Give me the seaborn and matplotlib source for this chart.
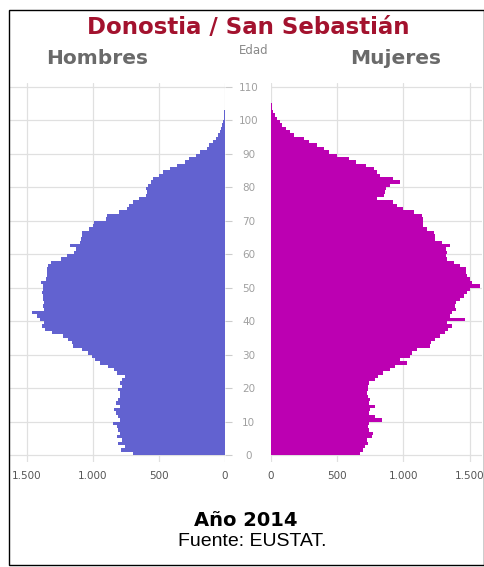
import numpy as np
import pandas as pd
import matplotlib
matplotlib.use('Agg')
import matplotlib.pyplot as plt
from matplotlib.patches import Rectangle
from matplotlib.ticker import FuncFormatter
import seaborn as sns

# datos: poblacion por edad simple (0-105), Donostia 2014
edades = list(range(106))
hombres = [700, 790, 760, 810, 780, 815, 795, 810, 815, 850,
           795, 810, 825, 840, 795, 825, 810, 795, 795, 810,
           780, 795, 780, 760, 820, 840, 885, 945, 985, 1010,
           1035, 1085, 1150, 1160, 1190, 1225, 1310, 1360, 1385, 1370,
           1400, 1420, 1460, 1370, 1375, 1370, 1380, 1375, 1385, 1375,
           1380, 1390, 1355, 1350, 1345, 1350, 1340, 1320, 1240, 1200,
           1140, 1130, 1175, 1100, 1090, 1085, 1080, 1030, 1000, 990,
           900, 890, 800, 745, 730, 700, 650, 595, 590, 600,
           580, 560, 545, 500, 470, 420, 360, 300, 270, 220,
           190, 140, 120, 90, 70, 55, 40, 28, 20, 14,
           9, 6, 4, 2, 1, 1]
mujeres = [672, 695, 710, 732, 725, 760, 770, 740, 732, 740,
           836, 785, 740, 750, 785, 740, 750, 732, 725, 732,
           732, 740, 785, 808, 846, 898, 936, 1025, 974, 1050,
           1065, 1100, 1200, 1210, 1240, 1276, 1313, 1338, 1364, 1325,
           1465, 1350, 1370, 1400, 1390, 1400, 1430, 1460, 1480, 1500,
           1580, 1520, 1500, 1480, 1470, 1475, 1430, 1380, 1330, 1320,
           1330, 1320, 1355, 1290, 1240, 1240, 1230, 1175, 1150, 1150,
           1150, 1140, 1080, 1000, 950, 920, 800, 850, 860, 870,
           900, 975, 920, 820, 800, 780, 720, 640, 590, 500,
           440, 400, 350, 290, 250, 170, 140, 110, 85, 68,
           45, 30, 15, 8, 4, 2]
ticks_edad = list(range(0, 111, 10))
ticks_pob = [0, 500, 1000, 1500]

df = pd.DataFrame({'edad': edades, 'hombres': hombres, 'mujeres': mujeres})
df['centro'] = df['edad'] + 0.5

sns.set_style('white')
plt.rcParams['font.family'] = ['DejaVu Sans']

W, H = 485, 567
fig = plt.figure(figsize=(W / 100, H / 100), dpi=100)
bottom = 1 - 461.7 / H
alto = 378.5 / H
ax_h = fig.add_axes([10 / W, bottom, 215 / W, alto])
ax_m = fig.add_axes([271 / W, bottom, 211 / W, alto])

sns.barplot(data=df, x='hombres', y='centro', orient='h', native_scale=True,
            width=1, color='#6262D0', saturation=1, linewidth=0,
            errorbar=None, ax=ax_h)
sns.barplot(data=df, x='mujeres', y='centro', orient='h', native_scale=True,
            width=1, color='#BC00B2', saturation=1, linewidth=0,
            errorbar=None, ax=ax_m)

fmt = FuncFormatter(lambda v, p: f'{int(v):,}'.replace(',', '.'))
for ax, lim in [(ax_h, (1628, 0)), (ax_m, (0, 1593))]:
    ax.set_xlim(lim)
    ax.set_ylim(-2, 111)
    ax.set_xticks(ticks_pob)
    ax.set_yticks(ticks_edad)
    ax.xaxis.set_major_formatter(fmt)
    ax.grid(True, color='#e0e0e0', lw=0.9)
    ax.set_axisbelow(True)
    ax.set_xlabel('')
    ax.set_ylabel('')
    for s in ax.spines.values():
        s.set_visible(False)
    ax.tick_params(axis='x', length=0, pad=6.5, labelsize=7.5, labelcolor='#555555')

ax_h.yaxis.tick_right()
ax_h.tick_params(axis='y', length=5, color='#cccccc', pad=12, labelsize=7.5,
                 labelcolor='#a0a0a0')
for lab in ax_h.get_yticklabels():
    lab.set_horizontalalignment('center')
ax_m.tick_params(axis='y', length=5, color='#cccccc', labelleft=False)

fig.text(248 / W, 1 - 27 / H, 'Donostia / San Sebastián', ha='center', va='center',
         fontsize=16.5, fontweight='bold', color='#A3122E')
fig.text(97 / W, 1 - 58 / H, 'Hombres', ha='center', va='center',
         fontsize=14.5, fontweight='bold', color='#6a6a6a')
fig.text(396 / W, 1 - 58 / H, 'Mujeres', ha='center', va='center',
         fontsize=14.5, fontweight='bold', color='#6a6a6a')
fig.text(254 / W, 1 - 51 / H, 'Edad', ha='center', va='center',
         fontsize=8.5, color='#888888')
fig.text(246 / W, 1 - 521 / H, 'Año 2014', ha='center', va='center',
         fontsize=14, fontweight='bold', color='black')
fig.text(252 / W, 1 - 542 / H, 'Fuente: EUSTAT.', ha='center', va='center',
         fontsize=14, color='black', family='Liberation Sans')

fig.add_artist(Rectangle((9 / W, 1 - 565 / H), 475 / W, 555 / H, fill=False,
                         ec='black', lw=1, transform=fig.transFigure))

fig.savefig('out.png', dpi=100)
